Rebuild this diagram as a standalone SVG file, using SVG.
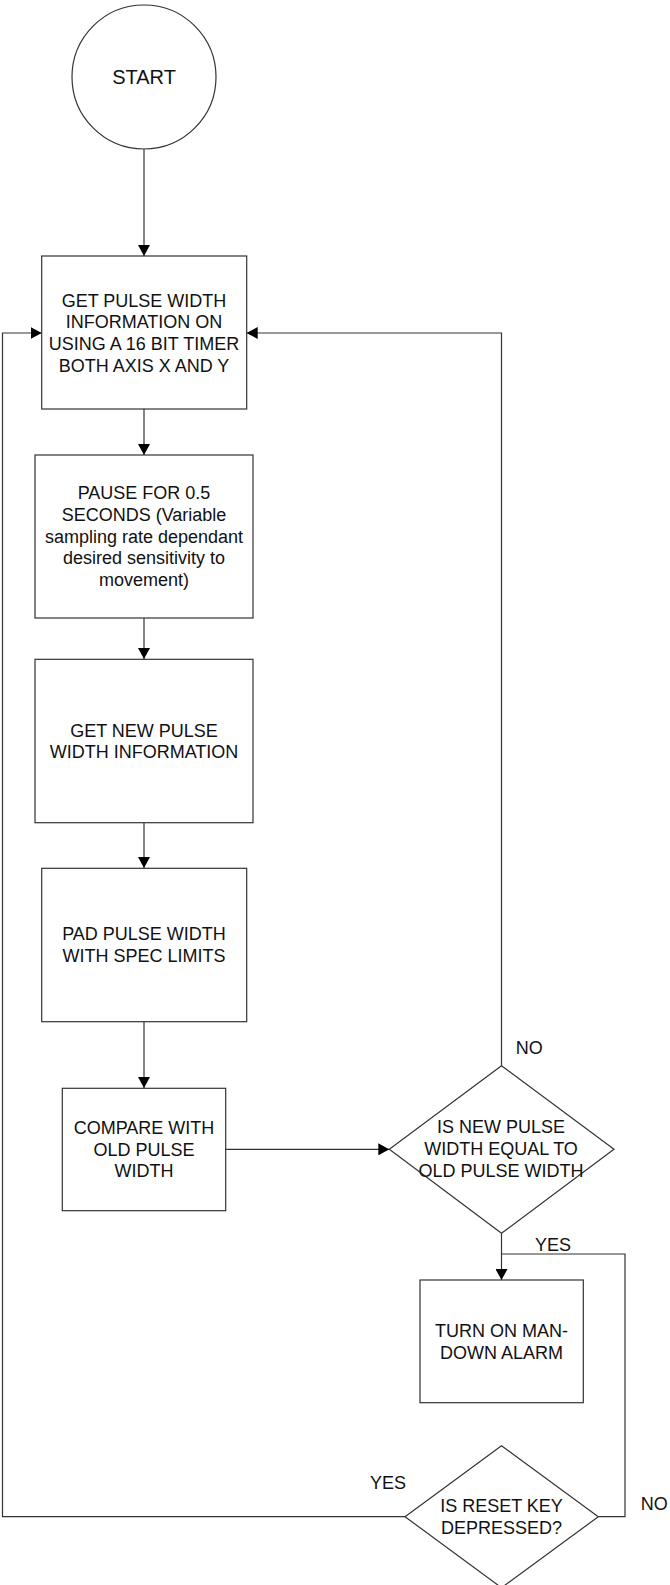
<svg xmlns="http://www.w3.org/2000/svg" width="670" height="1585" viewBox="0 0 670 1585">
<defs>
<style>
.n{fill:#fff;stroke:#333;stroke-width:1.2}
.t{font-family:"Liberation Sans",Arial,sans-serif;font-size:18px;fill:#111;text-anchor:middle}
.l{font-family:"Liberation Sans",Arial,sans-serif;font-size:18px;fill:#111}
.c{fill:none;stroke:#333;stroke-width:1.2}
</style>
<marker id="ah" viewBox="0 0 11 12" refX="11" refY="6" markerWidth="11" markerHeight="12" markerUnits="userSpaceOnUse" orient="auto">
<path d="M0,0 L11,6 L0,12 Z" fill="#000"/>
</marker>
</defs>
<rect width="670" height="1585" fill="#fff"/>
<g id="connectors">
<path class="c" d="M144,149 V256" marker-end="url(#ah)"/>
<path class="c" d="M144,409 V455" marker-end="url(#ah)"/>
<path class="c" d="M144,618 V659" marker-end="url(#ah)"/>
<path class="c" d="M144,823 V868" marker-end="url(#ah)"/>
<path class="c" d="M144,1022 V1088" marker-end="url(#ah)"/>
<path class="c" d="M225.7,1149.3 H389.3" marker-end="url(#ah)"/>
<path class="c" d="M501.5,1065.7 V333 H246.7" marker-end="url(#ah)"/>
<path class="c" d="M501.5,1233.3 V1280" marker-end="url(#ah)"/>
<path class="c" d="M598.3,1516.7 H625 V1254 H501.5"/>
<path class="c" d="M405,1516.7 H2.5 V333 H41.7" marker-end="url(#ah)"/>
</g>
<g id="start">
<circle class="n" cx="144" cy="77" r="72"/>
<text class="t" x="144" y="84" style="font-size:20px">START</text>
</g>
<g id="get-pulse">
<rect class="n" x="41.7" y="256" width="205" height="153"/>
<text class="t" x="144" y="306.5">GET PULSE WIDTH</text>
<text class="t" x="144" y="328.2">INFORMATION ON</text>
<text class="t" x="144" y="349.9">USING A 16 BIT TIMER</text>
<text class="t" x="144" y="371.6">BOTH AXIS X AND Y</text>
</g>
<g id="pause">
<rect class="n" x="35" y="455" width="218" height="163"/>
<text class="t" x="144" y="499">PAUSE FOR 0.5</text>
<text class="t" x="144" y="520.8">SECONDS (Variable</text>
<text class="t" x="144" y="542.6">sampling rate dependant</text>
<text class="t" x="144" y="564.4">desired sensitivity to</text>
<text class="t" x="144" y="586.2">movement)</text>
</g>
<g id="get-new">
<rect class="n" x="35" y="659.3" width="218" height="163.4"/>
<text class="t" x="144" y="736.5">GET NEW PULSE</text>
<text class="t" x="144" y="757.8">WIDTH INFORMATION</text>
</g>
<g id="pad">
<rect class="n" x="41.7" y="868.3" width="205" height="153.4"/>
<text class="t" x="144" y="940.2">PAD PULSE WIDTH</text>
<text class="t" x="144" y="961.8">WITH SPEC LIMITS</text>
</g>
<g id="compare">
<rect class="n" x="62.3" y="1088.3" width="163.4" height="122.4"/>
<text class="t" x="144" y="1133.7">COMPARE WITH</text>
<text class="t" x="144" y="1155.5">OLD PULSE</text>
<text class="t" x="144" y="1177.2">WIDTH</text>
</g>
<g id="decision-equal">
<polygon class="n" points="501.5,1065.7 614,1149.3 501.5,1233.3 389.3,1149.3"/>
<text class="t" x="501" y="1133">IS NEW PULSE</text>
<text class="t" x="501" y="1155.2">WIDTH EQUAL TO</text>
<text class="t" x="501" y="1177.4">OLD PULSE WIDTH</text>
</g>
<g id="alarm">
<rect class="n" x="420" y="1280" width="163.3" height="122.7"/>
<text class="t" x="501.5" y="1337">TURN ON MAN-</text>
<text class="t" x="501.5" y="1359">DOWN ALARM</text>
</g>
<g id="decision-reset">
<polygon class="n" points="501.5,1445.7 598.3,1516.7 501.5,1587.7 405,1516.7"/>
<text class="t" x="501.5" y="1512">IS RESET KEY</text>
<text class="t" x="501.5" y="1533.7">DEPRESSED?</text>
</g>
<g id="labels">
<text class="l" x="515.7" y="1054">NO</text>
<text class="l" x="535" y="1250.7">YES</text>
<text class="l" x="370" y="1488.7">YES</text>
<text class="l" x="640.7" y="1509.7">NO</text>
</g>
</svg>
